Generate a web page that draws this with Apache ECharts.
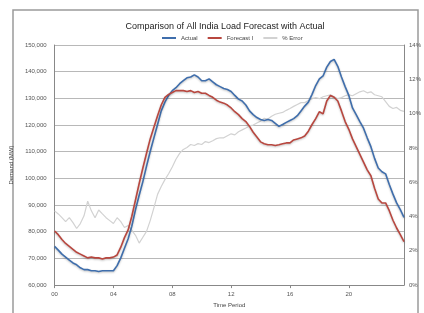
<!DOCTYPE html>
<html>
<head>
<meta charset="utf-8">
<script src="https://cdn.jsdelivr.net/npm/echarts@6/dist/echarts.min.js"></script>
<style>html,body{margin:0;padding:0;background:#fff;}#c{width:424px;height:313px;}</style>
</head>
<body>
<div id="c"></div>
<script>
const title = "Comparison of All India Load Forecast with Actual";
const seriesNames = ["Actual", "Forecast I", "% Error"];
const hourLabels = ["00", "04", "08", "12", "16", "20"];
const actual = [74500,73100,71600,70500,69400,68300,67600,66500,65800,65800,65400,65400,65100,65400,65400,65400,
65400,67300,70200,73800,77400,82100,88300,93700,98800,104600,110100,115200,120200,125300,128600,131100,
132900,134000,135500,136600,137700,138000,138800,138000,136600,136600,137300,136200,135100,134400,133700,133300,
132600,131100,129700,129000,127500,125300,123900,122800,122100,121700,122100,121700,120600,119500,120200,121000,
121700,122400,123500,125300,127100,128600,131500,134800,137300,138400,141700,143800,144600,142000,138000,134400,
131100,126400,123900,121300,118800,115200,111900,107500,103900,102500,101700,97700,94100,90800,88300,85400];
const forecast = [80300,78900,77100,75600,74500,73400,72300,71600,70900,70200,70500,70200,70200,69800,70200,70200,
70500,71300,74200,77800,80700,85800,91900,98100,103900,109400,114800,119200,123500,127500,130400,131500,
132200,132900,132900,132900,132600,132900,132200,132600,131900,131900,131100,130400,129300,128600,128200,127500,
126400,125000,123900,122400,121300,119500,117300,115500,113700,113000,112600,112600,112300,112600,113000,113300,
113300,114400,114800,115200,115900,117700,120200,122400,125000,124200,129000,131100,130400,129000,125300,121300,
118400,114800,111900,109000,106100,103200,101000,96300,92300,90800,90800,87900,84300,81400,78900,76300];
const errorPct = [4.33,4.15,3.93,3.70,3.93,3.64,3.30,3.59,4.04,4.89,4.33,3.93,4.38,4.15,3.93,3.76,
3.59,3.93,3.70,3.36,3.47,3.19,2.90,2.45,2.79,3.13,3.76,4.50,5.29,5.75,6.15,6.49,
6.89,7.34,7.68,7.91,8.02,8.20,8.14,8.25,8.20,8.37,8.31,8.42,8.54,8.59,8.59,8.71,
8.82,8.76,8.94,9.05,9.16,9.28,9.33,9.45,9.56,9.73,9.68,9.85,9.96,10.02,10.07,10.19,
10.30,10.42,10.53,10.64,10.64,10.76,10.87,10.93,10.87,10.98,11.04,11.10,10.98,10.87,10.93,11.04,
11.10,11.04,11.16,11.27,11.33,11.21,11.27,11.10,11.04,10.98,10.70,10.42,10.30,10.36,10.19,10.13];

const blocks = actual.map((_, i) => {
  const h = Math.floor(i / 4), m = (i % 4) * 15;
  return String(h).padStart(2, "0") + ":" + String(m).padStart(2, "0");
});

const chart = echarts.init(document.getElementById("c"), null, {renderer: "canvas"});
const font = "Liberation Sans";
chart.setOption({
  animation: false,
  backgroundColor: "#fff",
  textStyle: {fontFamily: font},
  graphic: [{
    type: "rect", shape: {x: 13, y: 10, width: 405, height: 320},
    style: {fill: "none", stroke: "#9a9a9a", lineWidth: 1.5}, z: -1
  }],
  title: {
    text: title, left: 220, textAlign: "center", top: 17,
    textStyle: {fontSize: 9, fontWeight: "normal", color: "#222", fontFamily: font}
  },
  legend: {
    data: seriesNames, top: 30, left: 157,
    itemWidth: 14, itemHeight: 2, itemGap: 10, icon: "rect",
    textStyle: {fontSize: 6, color: "#444"}
  },
  grid: {left: 43, right: 17, top: 45, bottom: 20, containLabel: false},
  xAxis: {
    type: "category", data: blocks, boundaryGap: false,
    name: "Time Period", nameLocation: "middle", nameGap: 14,
    nameTextStyle: {fontSize: 6, color: "#444"},
    axisLine: {lineStyle: {color: "#888"}},
    axisTick: {interval: 15, length: 3, lineStyle: {color: "#888"}},
    axisLabel: {
      interval: 15, fontSize: 6, color: "#555", margin: 6,
      formatter: (v, i) => hourLabels[Math.floor(i / 16)] || ""
    },
    splitLine: {show: false}
  },
  yAxis: [{
    type: "value", min: 60000, max: 150000, interval: 10000,
    name: "Demand (MW)", nameLocation: "middle", nameGap: 27, nameRotate: 90,
    nameTextStyle: {fontSize: 6, color: "#444"},
    axisLine: {show: true, lineStyle: {color: "#888"}},
    axisTick: {show: false},
    axisLabel: {fontSize: 6, color: "#555", margin: 8},
    splitLine: {lineStyle: {color: "#b8b8b8", width: 1}}
  }, {
    type: "value", min: 0, max: 14, interval: 2, position: "right",
    axisLine: {show: true, lineStyle: {color: "#888"}},
    axisTick: {show: false},
    axisLabel: {fontSize: 6, color: "#555", margin: 5, formatter: v => v + "%"},
    splitLine: {show: false}
  }],
  series: [{
    name: seriesNames[0], type: "line", data: actual, symbol: "none",
    lineStyle: {color: "#3f6eac", width: 1.6, shadowColor: "rgba(0,0,0,0.25)", shadowBlur: 2, shadowOffsetY: 1},
    itemStyle: {color: "#3f6eac"}, z: 3
  }, {
    name: seriesNames[1], type: "line", data: forecast, symbol: "none",
    lineStyle: {color: "#b8473f", width: 1.6, shadowColor: "rgba(0,0,0,0.25)", shadowBlur: 2, shadowOffsetY: 1},
    itemStyle: {color: "#b8473f"}, z: 3
  }, {
    name: seriesNames[2], type: "line", data: errorPct, yAxisIndex: 1, symbol: "none",
    lineStyle: {color: "#d2d2d2", width: 1.2},
    itemStyle: {color: "#d2d2d2"}, z: 2
  }]
});
</script>
</body>
</html>
